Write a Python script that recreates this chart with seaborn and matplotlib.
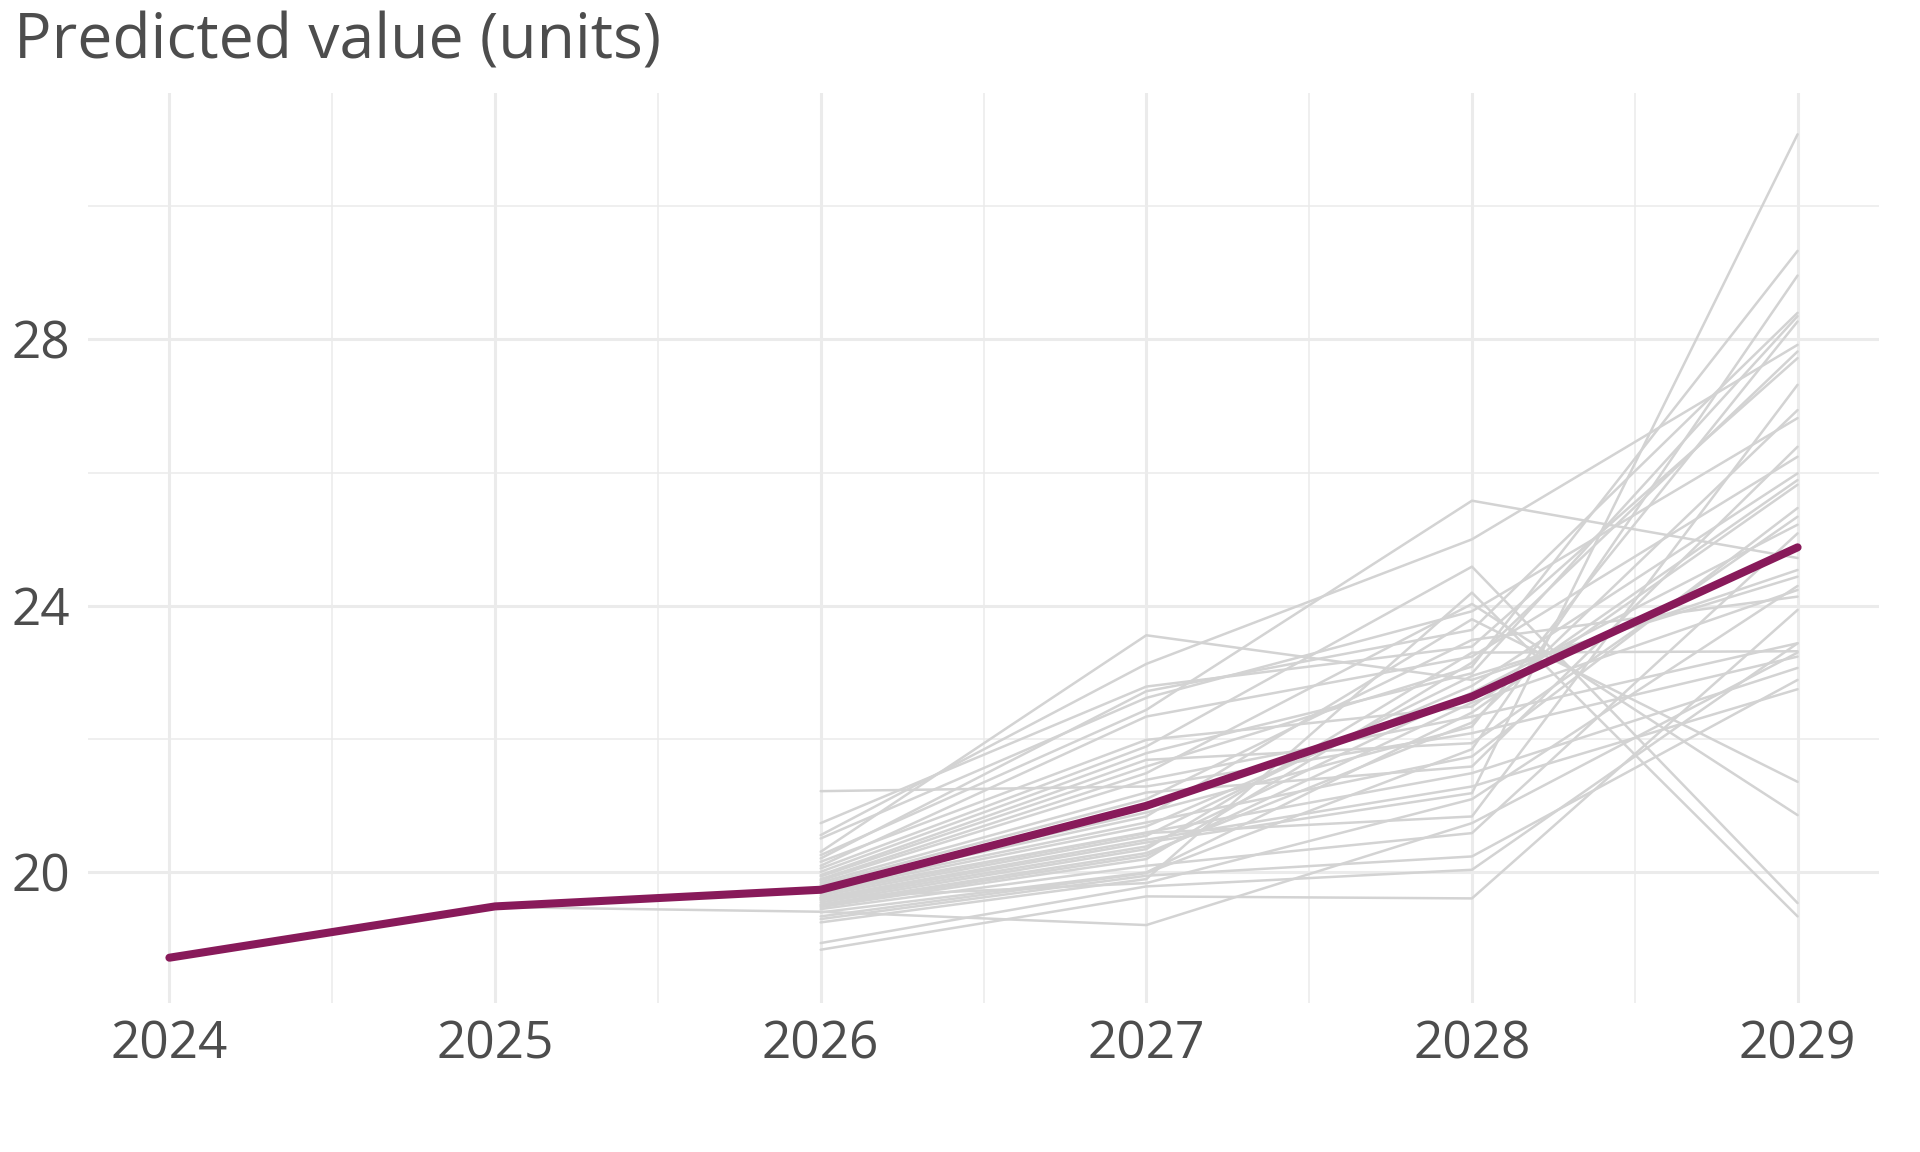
import numpy as np
import pandas as pd
import matplotlib
matplotlib.use("Agg")
import matplotlib.pyplot as plt
import seaborn as sns
from matplotlib.ticker import MultipleLocator

# ---------------- data ----------------
years_obs = [2024, 2025, 2026, 2027, 2028, 2029]
central = [18.72, 19.49, 19.74, 21.0, 22.64, 24.88]

sim_years = [2026, 2027, 2028, 2029]
sim_2026 = [21.22, 20.74, 20.56, 20.51, 20.31, 20.26, 20.21, 20.16, 20.10, 20.06,
            20.01, 19.96, 19.94, 19.90, 19.88, 19.85, 19.82, 19.80, 19.78, 19.75,
            19.72, 19.70, 19.68, 19.65, 19.62, 19.60, 19.58, 19.55, 19.52, 19.50,
            19.48, 19.45, 19.40, 19.34, 19.30, 19.25, 19.62, 18.94, 18.84, 19.41]
sim_2027 = [21.29, 22.79, 23.13, 22.62, 23.56, 22.44, 22.72, 21.99, 22.34, 21.89,
            21.79, 21.69, 21.59, 21.49, 21.39, 21.20, 21.10, 20.90, 20.84, 20.75,
            20.69, 20.60, 20.59, 20.55, 20.49, 20.45, 20.39, 20.35, 20.29, 20.25,
            20.20, 20.10, 20.00, 19.99, 19.95, 19.90, 19.84, 19.79, 19.64, 19.21]
sim_2028 = [22.09, 23.39, 25.00, 23.92, 22.89, 25.58, 23.64, 22.49, 23.24, 24.59,
            22.99, 21.94, 23.09, 24.03, 22.34, 21.59, 23.49, 22.19, 23.80, 21.74,
            22.80, 21.49, 20.84, 22.95, 21.29, 21.19, 22.70, 23.30, 22.25, 22.55,
            23.15, 20.59, 22.40, 21.85, 20.24, 24.20, 21.10, 20.04, 19.61, 20.74]
sim_2029 = [23.24, 27.72, 27.92, 26.82, 24.54, 24.72, 28.40, 25.89, 26.24, 19.54,
            28.35, 25.34, 29.33, 20.86, 23.44, 26.39, 24.14, 28.27, 21.36, 25.47,
            25.99, 23.07, 27.32, 24.44, 22.75, 31.08, 25.22, 23.32, 26.94, 24.24,
            27.82, 25.09, 25.82, 28.96, 22.89, 19.34, 24.30, 23.44, 23.94, 23.30]
# one simulated path that already starts in 2025
early_path_year = 2025
early_path_value = 19.48
early_path_index = 39

title_text = "Predicted value (units)"
y_ticks = [20, 24, 28]
x_ticks = [2024, 2025, 2026, 2027, 2028, 2029]
y_limits = (18.04, 31.70)

# ---------------- long-form table ----------------
rows = []
for i in range(len(sim_2026)):
    vals = [sim_2026[i], sim_2027[i], sim_2028[i], sim_2029[i]]
    if i == early_path_index:
        rows.append({"sim": i, "year": early_path_year, "value": early_path_value})
    for yr, v in zip(sim_years, vals):
        rows.append({"sim": i, "year": yr, "value": v})
sims = pd.DataFrame(rows)
main = pd.DataFrame({"year": years_obs, "value": central})

# ---------------- style ----------------
sns.set_theme(style="white")
plt.rcParams["font.family"] = ["Open Sans", "DejaVu Sans"]
text_col = "#4d4d4d"
grid_col = "#ebebeb"

fig = plt.figure(figsize=(19.2, 11.52), dpi=100)
ax = fig.add_axes([88 / 1920, 1 - 1003 / 1152, (1879 - 88) / 1920, (1003 - 93) / 1152])

sns.lineplot(data=sims, x="year", y="value", units="sim", estimator=None,
             color="#d3d3d3", linewidth=1.8, ax=ax, zorder=2)
sns.lineplot(data=main, x="year", y="value", color="#881a5a", linewidth=5.8,
             ax=ax, zorder=3)

ax.set_ylim(*y_limits)
ax.set_xticks(x_ticks)
ax.set_xticklabels([str(t) for t in x_ticks])
ax.xaxis.set_minor_locator(MultipleLocator(0.5))
ax.set_yticks(y_ticks)
ax.yaxis.set_minor_locator(MultipleLocator(2))
ax.grid(which="major", color=grid_col, linewidth=2.2, zorder=0)
ax.grid(which="minor", color=grid_col, linewidth=1.1, zorder=0)
ax.set_axisbelow(True)
for s in ax.spines.values():
    s.set_visible(False)
ax.tick_params(which="both", length=0)
ax.tick_params(axis="x", labelsize=37, labelcolor=text_col, pad=12)
ax.tick_params(axis="y", labelsize=37, labelcolor=text_col, pad=13)
ax.set_xlabel("")
ax.set_ylabel("")

fig.text(14 / 1920, 1 - 58 / 1152, title_text, fontsize=45, color=text_col,
         ha="left", va="baseline")

fig.savefig("out.png", dpi=100)
